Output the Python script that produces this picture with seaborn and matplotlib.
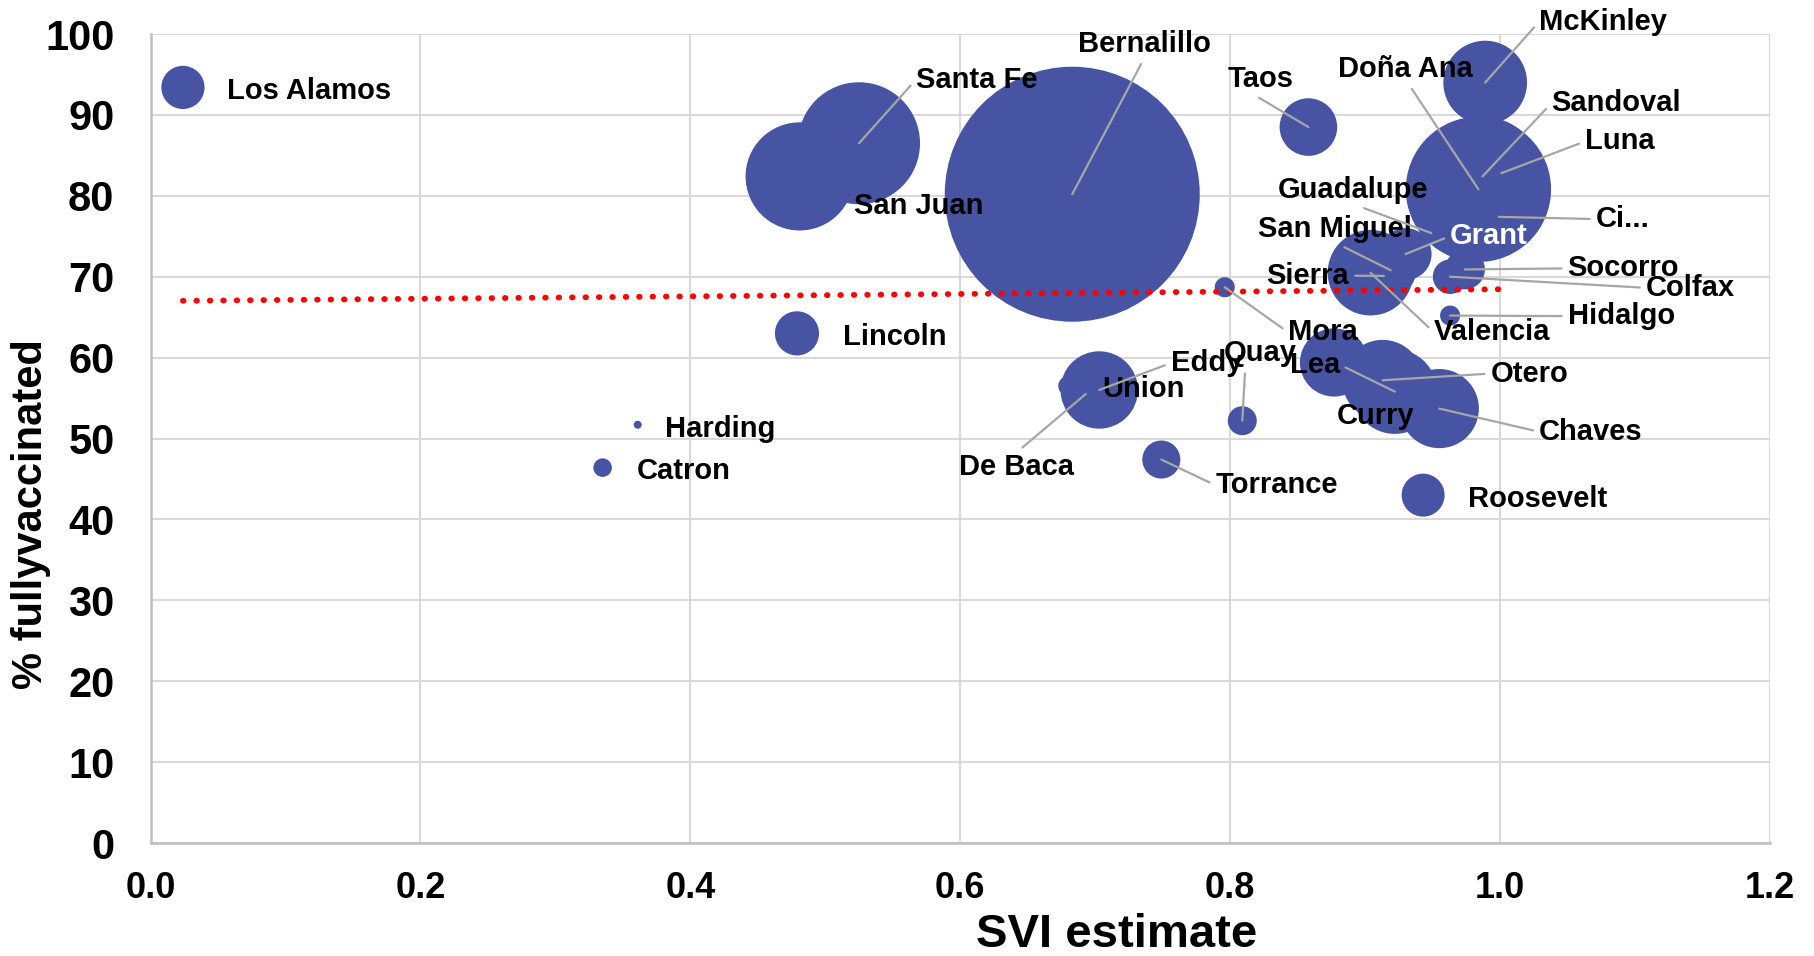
import matplotlib
matplotlib.use("Agg")
import matplotlib.pyplot as plt
import seaborn as sns
import pandas as pd
import numpy as np

# =========================================================
# DATA
# =========================================================

counties = [
    "Los Alamos", "Santa Fe", "San Juan", "Bernalillo", "Lincoln",
    "Harding", "Catron", "Union", "De Baca", "Eddy", "Torrance",
    "Mora", "Quay", "Taos", "Curry", "Valencia", "Sierra",
    "San Miguel", "Lea", "Otero", "Grant", "Roosevelt", "Guadalupe",
    "Chaves", "Colfax", "Hidalgo", "Socorro", "Doña Ana", "Sandoval",
    "McKinley", "Ci...", "Luna",
]

svi = [
    0.024, 0.525, 0.481, 0.683, 0.479,
    0.361, 0.335, 0.680, 0.693, 0.703, 0.749,
    0.796, 0.809, 0.858, 0.877, 0.904, 0.914,
    0.919, 0.922, 0.913, 0.930, 0.943, 0.949,
    0.955, 0.963, 0.963, 0.974, 0.984, 0.987,
    0.989, 0.999, 1.001,
]

fully_vaccinated = [
    93.4, 86.5, 82.4, 80.2, 63.0,
    51.7, 46.4, 56.5, 55.5, 56.0, 47.4,
    68.7, 52.2, 88.5, 59.4, 70.5, 70.1,
    70.8, 55.8, 57.2, 72.8, 43.0, 75.4,
    53.7, 70.0, 65.2, 70.9, 80.8, 82.4,
    94.0, 77.4, 82.8,
]

population = [
    19419, 154823, 121661, 676444, 20269,
    657, 3579, 4079, 1698, 62314, 15045,
    4189, 8746, 34489, 48430, 76205, 11576,
    27201, 74455, 67839, 28185, 19191, 4452,
    65157, 12387, 4178, 16595, 219561, 148834,
    72902, 27172, 25427,
]

df = pd.DataFrame({
    "county": counties,
    "svi": svi,
    "vax": fully_vaccinated,
    "pop": population,
})

# =========================================================
# LABEL LAYOUT  (text anchor in data coords, leader start)
# =========================================================

label_layout = {
    "Los Alamos": (0.057, 93.3, None),
    "Santa Fe": (0.567, 94.7, (0, 0.5)),
    "San Juan": (0.521, 79.1, None),
    "Bernalillo": (0.687, 99.1, (0.5, 0)),
    "Lincoln": (0.513, 62.9, None),
    "Harding": (0.381, 51.6, None),
    "Catron": (0.360, 46.4, None),
    "Union": (0.705, 56.5, None),
    "De Baca": (0.599, 46.9, (0.5, 1)),
    "Eddy": (0.756, 59.7, (0, 0.5)),
    "Torrance": (0.789, 44.6, (0, 0.5)),
    "Mora": (0.843, 63.5, (0, 0.5)),
    "Quay": (0.795, 60.9, (0.3, 0)),
    "Taos": (0.798, 94.8, (0.36, 0)),
    "Curry": (0.879, 53.2, None),
    "Valencia": (0.951, 63.5, (0, 0.5)),
    "Sierra": (0.827, 70.5, (1, 0.5)),
    "San Miguel": (0.821, 76.3, (0.5, 0)),
    "Lea": (0.844, 59.5, (1, 0.5)),
    "Otero": (0.993, 58.4, (0, 0.5)),
    "Grant": (0.963, 75.4, (0, 0.5)),
    "Roosevelt": (0.976, 42.9, None),
    "Guadalupe": (0.835, 81.1, (0.5, 0)),
    "Chaves": (1.029, 51.2, (0, 0.5)),
    "Colfax": (1.108, 69.0, (0, 0.5)),
    "Hidalgo": (1.050, 65.5, (0, 0.5)),
    "Socorro": (1.050, 71.4, (0, 0.5)),
    "Doña Ana": (0.880, 96.0, (0.52, 0)),
    "Sandoval": (1.038, 91.8, (0, 0.5)),
    "McKinley": (1.029, 101.9, (0, 0.5)),
    "Ci...": (1.071, 77.5, (0, 0.5)),
    "Luna": (1.063, 87.1, (0, 0.5)),
}

BUBBLE = "#4753a3"
LEADER = "#a6a6a6"

# =========================================================
# PLOT
# =========================================================

sns.set_style("white")
plt.rcParams["font.family"] = ["Liberation Sans", "DejaVu Sans"]
plt.rcParams["font.weight"] = "bold"
plt.rcParams["text.color"] = "black"
plt.rcParams["xtick.color"] = "black"
plt.rcParams["ytick.color"] = "black"
plt.rcParams["axes.labelcolor"] = "black"

fig = plt.figure(figsize=(18.14, 9.56), dpi=100)
ax = fig.add_axes([0.083, 0.1182, 0.8927, 0.8462])

# area proportional to population (Bernalillo ~255 px across)
s_max = (255 * 72 / 100) ** 2

sns.scatterplot(
    data=df,
    x="svi",
    y="vax",
    size="pop",
    sizes=(0, s_max),
    size_norm=(0, max(population)),
    color=BUBBLE,
    linewidth=0,
    alpha=1,
    legend=False,
    ax=ax,
    zorder=2,
)

# linear trendline
slope, intercept = np.polyfit(df["svi"], df["vax"], 1)
xs = np.array([df["svi"].min(), df["svi"].max()])
ax.plot(
    xs,
    slope * xs + intercept,
    color="#ff0000",
    linestyle=(0, (0.1, 2.2)),
    linewidth=4.2,
    dash_capstyle="round",
    zorder=3,
)

for name, px, py in zip(df["county"], df["svi"], df["vax"]):
    tx, ty, rel = label_layout[name]
    col = "white" if name == "Grant" else "black"
    if rel is None:
        ax.text(tx, ty, name, ha="left", va="center_baseline", fontsize=21,
                fontweight="bold", color=col, zorder=5)
    else:
        ax.annotate(
            name,
            xy=(px, py),
            xytext=(tx, ty),
            ha="left",
            va="center_baseline",
            fontsize=21,
            fontweight="bold",
            color=col,
            zorder=5,
            arrowprops=dict(
                arrowstyle="-",
                color=LEADER,
                lw=1.6,
                shrinkA=2,
                shrinkB=0,
                relpos=rel,
            ),
            annotation_clip=False,
        )

ax.set_xlim(0, 1.2)
ax.set_ylim(0, 100)
ax.set_xticks(np.arange(0, 1.21, 0.2))
ax.set_xticklabels([f"{v:.1f}" for v in np.arange(0, 1.21, 0.2)])
ax.set_yticks(np.arange(0, 101, 10))

ax.grid(True, color="#d9d9d9", linewidth=1.5)
ax.set_axisbelow(True)
for side in ["top", "right"]:
    ax.spines[side].set_visible(False)
for side in ["left", "bottom"]:
    ax.spines[side].set_color("#bfbfbf")
    ax.spines[side].set_linewidth(1.8)

ax.tick_params(axis="x", length=0, pad=20, labelsize=26, labelcolor="black")
ax.tick_params(axis="y", length=0, pad=26, labelsize=30, labelcolor="black")
for lab in ax.get_xticklabels() + ax.get_yticklabels():
    lab.set_fontweight("bold")

ax.set_xlabel("SVI estimate", fontsize=34, fontweight="bold", va="center",
              color="black")
ax.set_ylabel("% fullyvaccinated", fontsize=30, fontweight="bold",
              va="center", ha="center", color="black")
ax.xaxis.set_label_coords(0.5965, -0.1137)
ax.yaxis.set_label_coords(-0.0738, 0.4067)

fig.savefig("out.png", dpi=100)
